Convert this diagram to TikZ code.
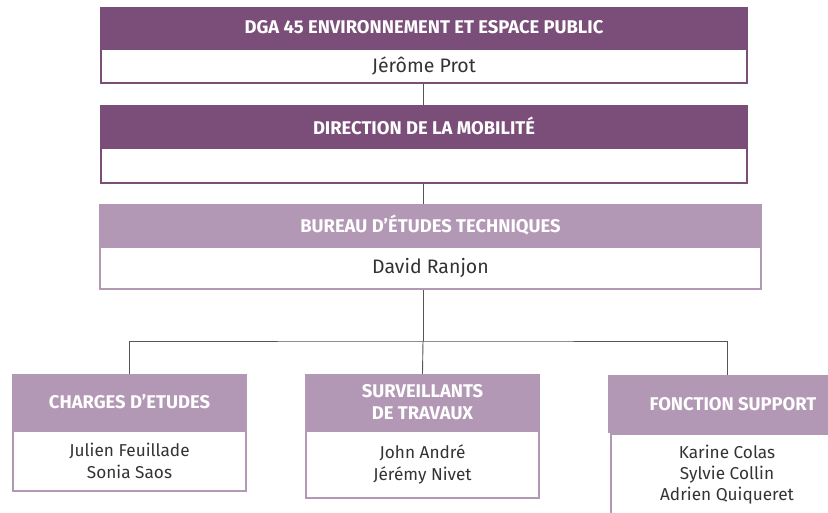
\documentclass[tikz,border=0pt]{standalone}
\usepackage{fontspec}
\setmainfont{Fira Sans}
\definecolor{prune}{HTML}{7B4D79}
\definecolor{mauve}{HTML}{B398B6}
\definecolor{trait}{HTML}{555555}
\definecolor{encre}{HTML}{333333}
\tikzset{
  titre/.style={fill=#1, text=white, inner sep=0pt, align=center,
    font=\bfseries\fontsize{18.4}{22}\selectfont},
  corps/.style={draw=#1, line width=1.6pt, fill=white, text=encre, inner sep=0pt,
    align=center, font=\fontsize{19.5}{22}\selectfont},
  equipe/.style={corps=mauve, font=\fontsize{17.2}{21.5}\selectfont},
  lien/.style={draw=trait, line width=0.9pt},
}
\begin{document}
\begin{tikzpicture}[x=1pt,y=-1pt]
  \useasboundingbox (0,0) rectangle (828,512);
  \clip (0,0) rectangle (828,512);
  % direction generale
  \node[titre=prune, minimum width=648pt, minimum height=41pt] (dga) at (424,27.5)
    {DGA 45 ENVIRONNEMENT ET ESPACE PUBLIC};
  \node[corps=prune, minimum width=646pt, minimum height=34pt, anchor=north] (prot) at (dga.south)
    {Jérôme Prot};
  % mobilite
  \node[titre=prune, minimum width=648pt, minimum height=42pt] (dm) at (424,126)
    {DIRECTION DE LA MOBILITÉ};
  \node[corps=prune, minimum width=646pt, minimum height=35pt, anchor=north] (dmvide) at (dm.south) {};
  % bureau
  \node[titre=mauve, minimum width=663pt, minimum height=42pt] (bet) at (430.5,225)
    {BUREAU D’ÉTUDES TECHNIQUES};
  \node[corps=mauve, minimum width=661pt, minimum height=42pt, anchor=north] (ranjon) at (bet.south)
    {David Ranjon};
  % cellules
  \node[titre=mauve, minimum width=235pt, minimum height=56pt] (ce) at (129.5,402)
    {CHARGES D’ETUDES};
  \node[equipe, minimum width=233pt, minimum height=60pt, anchor=north] (ceq) at (ce.south)
    {Julien Feuillade\\Sonia Saos};
  \node[titre=mauve, minimum width=235pt, minimum height=56pt] (st) at (422.5,402)
    {SURVEILLANTS\\DE TRAVAUX};
  \node[equipe, minimum width=233pt, minimum height=67pt, anchor=north] (steq) at (st.south)
    {John André\\Jérémy Nivet};
  \node[titre=mauve, minimum width=238pt, minimum height=58pt] (fs) at (727,404)
    {\hspace*{12pt}FONCTION SUPPORT};
  \node[equipe, minimum width=232pt, minimum height=82pt, anchor=north,
    font=\fontsize{17.2}{21}\selectfont] (fseq) at (fs.south)
    {Karine Colas\\Sylvie Collin\\Adrien Quiqueret};
  % liens
  \coordinate (fork) at (423,341);
  \draw[lien] (prot.south -| fork) -- (dm.north -| fork);
  \draw[lien] (dmvide.south -| fork) -- (bet.north -| fork);
  \draw[lien] (ranjon.south -| fork) -- (fork);
  \draw[lien] (ce.north) |- (fork) -| (fs.north);
  \draw[lien] (fork) -- (st.north);
\end{tikzpicture}
\end{document}
